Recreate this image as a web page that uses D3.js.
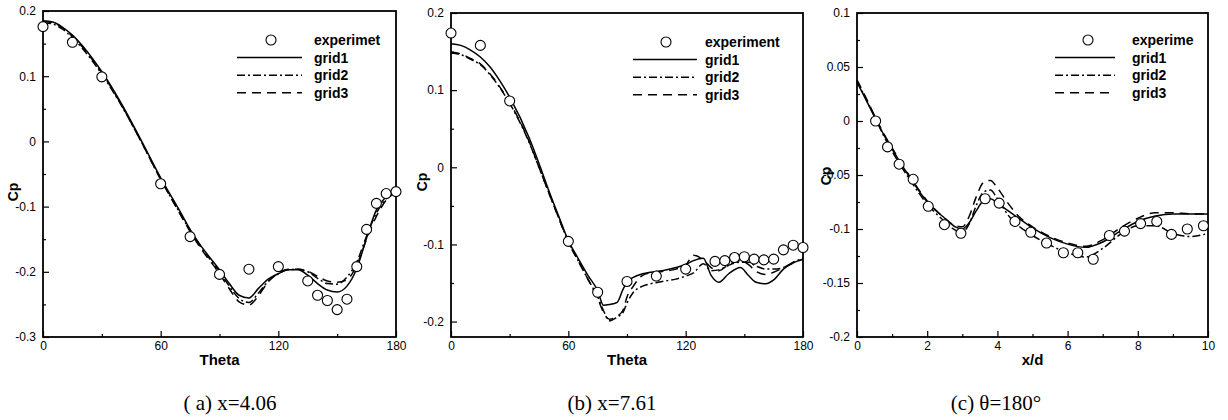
<!DOCTYPE html>
<html>
<head>
<meta charset="utf-8">
<script src="https://cdn.jsdelivr.net/npm/d3@7"></script>
<style>
  body { margin: 0; background: #fff; }
  svg { display: block; font-family: "Liberation Sans", Arial, sans-serif; }
</style>
</head>
<body>
<svg id="chart" width="1228" height="420"></svg>
<script>
// ---- (a) x=4.06 : Cp vs Theta ----
const thetaA_exp = [0, 15, 30, 60, 75, 90, 105, 120, 135, 140, 145, 150, 155, 160, 165, 170, 175, 180];
const cpA_exp = [0.176, 0.152, 0.099, -0.065, -0.146, -0.204, -0.196, -0.192, -0.214, -0.236, -0.244, -0.258, -0.242, -0.192, -0.135, -0.095, -0.080, -0.077];
const thetaA_grid = [0, 5, 10, 15, 20, 25, 30, 40, 50, 60, 70, 75, 80, 90, 95, 100, 105, 110, 115, 120, 125, 130, 135, 140, 145, 150, 155, 160, 165, 170, 175, 180];
const cpA_grid1 = [0.185, 0.183, 0.175, 0.163, 0.147, 0.128, 0.107, 0.058, 0.002, -0.056, -0.108, -0.135, -0.158, -0.197, -0.218, -0.236, -0.240, -0.225, -0.211, -0.203, -0.197, -0.197, -0.205, -0.218, -0.228, -0.231, -0.222, -0.195, -0.148, -0.105, -0.085, -0.076];
const cpA_grid2 = [0.182, 0.180, 0.172, 0.159, 0.143, 0.124, 0.103, 0.055, 0.000, -0.058, -0.111, -0.137, -0.160, -0.200, -0.222, -0.241, -0.247, -0.232, -0.214, -0.203, -0.197, -0.196, -0.200, -0.210, -0.218, -0.219, -0.208, -0.185, -0.145, -0.110, -0.088, -0.078];
const cpA_grid3 = [0.184, 0.182, 0.174, 0.161, 0.145, 0.126, 0.105, 0.056, 0.000, -0.058, -0.112, -0.138, -0.162, -0.203, -0.226, -0.246, -0.251, -0.236, -0.215, -0.202, -0.196, -0.196, -0.199, -0.207, -0.214, -0.216, -0.212, -0.190, -0.150, -0.115, -0.090, -0.078];

// ---- (b) x=7.61 : Cp vs Theta ----
const thetaB_exp = [0, 15, 30, 60, 75, 90, 105, 120, 135, 140, 145, 150, 155, 160, 165, 170, 175, 180];
const cpB_exp = [0.174, 0.158, 0.086, -0.096, -0.162, -0.148, -0.141, -0.132, -0.122, -0.121, -0.117, -0.116, -0.119, -0.120, -0.119, -0.107, -0.101, -0.104];
const thetaB_grid = [0, 5, 10, 15, 20, 25, 30, 40, 45, 50, 55, 60, 65, 70, 75, 78, 81, 85, 88, 90, 93, 98, 102, 108, 115, 120, 124, 129, 133, 137, 142, 148, 152, 156, 161, 165, 170, 175, 180];
const cpB_grid1 = [0.160, 0.158, 0.152, 0.143, 0.130, 0.112, 0.091, 0.038, 0.005, -0.030, -0.063, -0.095, -0.118, -0.140, -0.160, -0.179, -0.178, -0.175, -0.158, -0.149, -0.143, -0.138, -0.136, -0.134, -0.130, -0.126, -0.121, -0.118, -0.140, -0.149, -0.138, -0.130, -0.140, -0.149, -0.151, -0.146, -0.132, -0.124, -0.119];
const cpB_grid2 = [0.148, 0.146, 0.140, 0.133, 0.120, 0.103, 0.083, 0.032, 0.000, -0.033, -0.065, -0.097, -0.121, -0.145, -0.168, -0.186, -0.199, -0.194, -0.188, -0.176, -0.163, -0.154, -0.151, -0.148, -0.145, -0.141, -0.137, -0.125, -0.134, -0.133, -0.127, -0.123, -0.123, -0.128, -0.132, -0.132, -0.130, -0.123, -0.118];
const cpB_grid3 = [0.149, 0.147, 0.141, 0.134, 0.121, 0.104, 0.084, 0.033, 0.000, -0.033, -0.065, -0.097, -0.121, -0.145, -0.170, -0.188, -0.197, -0.193, -0.185, -0.168, -0.155, -0.140, -0.137, -0.135, -0.132, -0.127, -0.114, -0.120, -0.130, -0.134, -0.126, -0.121, -0.126, -0.135, -0.139, -0.136, -0.130, -0.124, -0.119];

// ---- (c) theta=180 : Cp vs x/d ----
const xdC_exp = [0.53, 0.87, 1.2, 1.6, 2.03, 2.49, 2.96, 3.65, 4.05, 4.5, 4.95, 5.4, 5.88, 6.29, 6.73, 7.19, 7.62, 8.08, 8.54, 8.96, 9.41, 9.87];
const cpC_exp = [0.0, -0.024, -0.040, -0.054, -0.079, -0.096, -0.104, -0.072, -0.076, -0.093, -0.103, -0.113, -0.122, -0.122, -0.128, -0.106, -0.102, -0.095, -0.093, -0.105, -0.100, -0.097];
const xdC_grid = [0, 0.25, 0.5, 0.75, 1, 1.5, 2, 2.5, 2.8, 3, 3.2, 3.4, 3.6, 3.8, 4, 4.3, 4.6, 5, 5.5, 6, 6.5, 7, 7.5, 8, 8.5, 9, 9.5, 10];
const cpC_grid1 = [0.036, 0.020, 0.004, -0.012, -0.026, -0.052, -0.075, -0.090, -0.098, -0.100, -0.094, -0.083, -0.074, -0.072, -0.076, -0.083, -0.090, -0.099, -0.108, -0.114, -0.117, -0.112, -0.102, -0.093, -0.088, -0.086, -0.086, -0.086];
const cpC_grid2 = [0.037, 0.021, 0.004, -0.013, -0.028, -0.054, -0.077, -0.093, -0.101, -0.103, -0.095, -0.078, -0.066, -0.064, -0.072, -0.087, -0.097, -0.106, -0.115, -0.122, -0.126, -0.118, -0.105, -0.097, -0.097, -0.104, -0.107, -0.104];
const cpC_grid3 = [0.038, 0.022, 0.005, -0.011, -0.025, -0.051, -0.074, -0.090, -0.097, -0.098, -0.088, -0.070, -0.057, -0.055, -0.062, -0.076, -0.088, -0.098, -0.107, -0.113, -0.116, -0.110, -0.099, -0.090, -0.085, -0.085, -0.086, -0.086];

// ---- tick values ----
const thetaTicks = [0, 60, 120, 180];
const thetaMinor = [30, 90, 150];
const cpTicksA = [-0.3, -0.2, -0.1, 0, 0.1, 0.2];
const cpMinorA = [-0.25, -0.15, -0.05, 0.05, 0.15];
const cpTicksB = [-0.2, -0.1, 0, 0.1, 0.2];
const cpMinorB = [-0.15, -0.05, 0.05, 0.15];
const xdTicks = [0, 2, 4, 6, 8, 10];
const xdMinor = [1, 3, 5, 7, 9];
const cpTicksC = [-0.2, -0.15, -0.1, -0.05, 0, 0.05, 0.1];
const cpMinorC = [-0.175, -0.125, -0.075, -0.025, 0.025, 0.075];

const legendNames = ["grid1", "grid2", "grid3"];
const captions = ["( a) x=4.06", "(b) x=7.61", "(c) \u03b8=180\u00b0"];
const expNames = ["experimet", "experiment", "experime"];

const panels = [
    { left: 43, right: 396, top: 11, bottom: 337, xDom: [0, 180], yDom: [-0.3, 0.2],
      xTicks: thetaTicks, xMinor: thetaMinor, yTicks: cpTicksA, yMinor: cpMinorA, xTitle: "Theta",
      cp: [13, 192], legend: [271, 314, 237, 302, 40], capX: 230,
      exp: [thetaA_exp, cpA_exp], gx: thetaA_grid, grids: [cpA_grid1, cpA_grid2, cpA_grid3] },
    { left: 451, right: 803, top: 13, bottom: 337, xDom: [0, 180], yDom: [-0.22, 0.2],
      xTicks: thetaTicks, xMinor: thetaMinor, yTicks: cpTicksB, yMinor: cpMinorB, xTitle: "Theta",
      cp: [422, 182], legend: [666, 705, 633, 697, 42], capX: 612,
      exp: [thetaB_exp, cpB_exp], gx: thetaB_grid, grids: [cpB_grid1, cpB_grid2, cpB_grid3] },
    { left: 857, right: 1208, top: 13, bottom: 337, xDom: [0, 10], yDom: [-0.2, 0.1],
      xTicks: xdTicks, xMinor: xdMinor, yTicks: cpTicksC, yMinor: cpMinorC, xTitle: "x/d",
      cp: [826, 176], legend: [1088, 1132, 1055, 1115, 40], capX: 996,
      exp: [xdC_exp, cpC_exp], gx: xdC_grid, grids: [cpC_grid1, cpC_grid2, cpC_grid3] }
];

const dashes = [null, "8,3,2,3", "9,6"];
const fmt = d => d === 0 ? "0" : String(+d.toFixed(3));

const svg = d3.select("#chart");
svg.append("rect").attr("width", 1228).attr("height", 420).attr("fill", "#fff");

panels.forEach((p, i) => {
    const x = d3.scaleLinear().domain(p.xDom).range([p.left, p.right]);
    const y = d3.scaleLinear().domain(p.yDom).range([p.bottom, p.top]);
    const g = svg.append("g");

    // inward ticks, major + minor
    g.append("g").attr("transform", `translate(0,${p.bottom})`)
        .call(d3.axisBottom(x).tickValues(p.xTicks).tickFormat(fmt).tickSizeInner(-6).tickSizeOuter(0).tickPadding(4));
    g.append("g").attr("transform", `translate(0,${p.bottom})`)
        .call(d3.axisBottom(x).tickValues(p.xMinor).tickFormat("").tickSizeInner(-3).tickSizeOuter(0));
    g.append("g").attr("transform", `translate(${p.left},0)`)
        .call(d3.axisLeft(y).tickValues(p.yTicks).tickFormat(fmt).tickSizeInner(-6).tickSizeOuter(0).tickPadding(7));
    g.append("g").attr("transform", `translate(${p.left},0)`)
        .call(d3.axisLeft(y).tickValues(p.yMinor).tickFormat("").tickSizeInner(-3).tickSizeOuter(0));

    g.selectAll(".domain").remove();
    g.selectAll(".tick line").attr("stroke", "#000").attr("stroke-width", 1.2);
    g.selectAll(".tick text").attr("fill", "#000").attr("font-size", "12px")
        .attr("font-family", "'Liberation Sans', Arial, sans-serif");

    // frame
    g.append("rect")
        .attr("x", p.left).attr("y", p.top)
        .attr("width", p.right - p.left).attr("height", p.bottom - p.top)
        .attr("fill", "none").attr("stroke", "#000").attr("stroke-width", 1.8);

    // curves
    const line = d3.line().x(d => x(d[0])).y(d => y(d[1])).curve(d3.curveMonotoneX);
    p.grids.forEach((vals, k) => {
        g.append("path")
            .datum(p.gx.map((v, j) => [v, vals[j]]))
            .attr("fill", "none").attr("stroke", "#000").attr("stroke-width", 1.5)
            .attr("stroke-dasharray", dashes[k])
            .attr("d", line);
    });

    // experiment circles
    g.selectAll("circle.exp")
        .data(p.exp[0].map((v, j) => [v, p.exp[1][j]]))
        .enter().append("circle").attr("class", "exp")
        .attr("cx", d => x(d[0])).attr("cy", d => y(d[1])).attr("r", 5)
        .attr("fill", "#fff").attr("stroke", "#000").attr("stroke-width", 1.1);

    // axis titles
    g.append("text")
        .attr("x", (p.left + p.right) / 2).attr("y", 365)
        .attr("text-anchor", "middle").attr("font-size", "15px").attr("font-weight", "bold")
        .text(p.xTitle);
    g.append("text")
        .attr("transform", `translate(${p.cp[0] + 5},${p.cp[1]}) rotate(-90)`)
        .attr("text-anchor", "middle").attr("font-size", "14px").attr("font-weight", "bold")
        .text("Cp");

    // legend
    const [cx, tx, lx0, lx1, ly] = p.legend;
    const rowH = 17.6;
    g.append("circle").attr("cx", cx).attr("cy", ly).attr("r", 5)
        .attr("fill", "#fff").attr("stroke", "#000").attr("stroke-width", 1.1);
    g.append("text").attr("x", tx).attr("y", ly).attr("dy", "0.35em")
        .attr("font-size", "14px").attr("font-weight", "bold").text(expNames[i]);
    legendNames.forEach((name, k) => {
        const yy = ly + rowH * (k + 1);
        g.append("line").attr("x1", lx0).attr("x2", lx1).attr("y1", yy).attr("y2", yy)
            .attr("stroke", "#000").attr("stroke-width", 1.5).attr("stroke-dasharray", dashes[k]);
        g.append("text").attr("x", tx).attr("y", yy).attr("dy", "0.35em")
            .attr("font-size", "14px").attr("font-weight", "bold").text(name);
    });

    // caption
    g.append("text")
        .attr("x", p.capX).attr("y", 410)
        .attr("text-anchor", "middle")
        .attr("font-family", "'Liberation Serif', 'Times New Roman', serif")
        .attr("font-size", "21px")
        .text(captions[i]);
});
</script>
</body>
</html>
